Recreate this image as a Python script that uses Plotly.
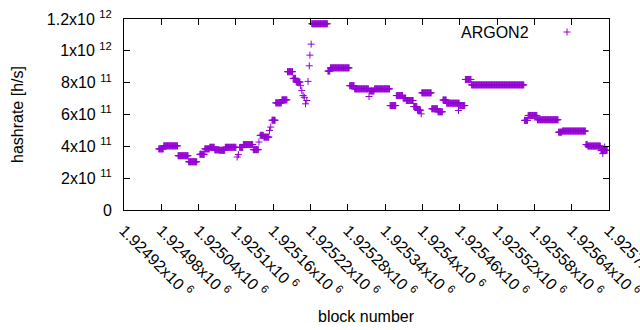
import plotly.graph_objects as go

# ---- data (hashrate in units of 1e11 h/s) ----
run_first = [1924976, 1924984, 1925007, 1925024, 1925042, 1925050, 1925058, 1925066, 1925074, 1925083,
             1925106, 1925112, 1925128, 1925139, 1925145, 1925158, 1925164, 1925174, 1925183, 1925192,
             1925197, 1925222, 1925248, 1925252, 1925283, 1925291, 1925315, 1925323, 1925348, 1925358,
             1925369, 1925374, 1925386, 1925392, 1925399, 1925415, 1925425, 1925433, 1925439, 1925460,
             1925469, 1925479, 1925564, 1925570, 1925585, 1925619, 1925625, 1925663, 1925666, 1925687]
run_last = [1924983, 1925006, 1925023, 1925037, 1925049, 1925057, 1925065, 1925073, 1925082, 1925100,
            1925111, 1925127, 1925136, 1925144, 1925153, 1925163, 1925173, 1925182, 1925191, 1925196,
            1925203, 1925247, 1925251, 1925282, 1925290, 1925313, 1925322, 1925347, 1925357, 1925368,
            1925373, 1925385, 1925391, 1925397, 1925414, 1925424, 1925432, 1925438, 1925459, 1925468,
            1925478, 1925563, 1925569, 1925584, 1925618, 1925624, 1925662, 1925665, 1925686, 1925697]
run_rate = [3.84, 4.03, 3.41, 3.03, 3.50, 3.84, 3.94, 3.78, 3.75, 3.94,
            3.93, 4.11, 3.79, 4.69, 4.58, 5.64, 6.73, 6.92, 8.69, 8.27,
            8.04, 11.70, 8.73, 8.93, 7.81, 7.61, 7.48, 7.61, 6.56, 7.19,
            7.03, 6.88, 6.50, 6.27, 7.36, 6.36, 6.17, 6.91, 6.71, 6.56,
            8.20, 7.86, 5.63, 5.94, 5.67, 4.89, 4.96, 4.11, 4.02, 3.75]

spot_block = [1925102, 1925104, 1925137, 1925154, 1925156, 1925204, 1925206, 1925208, 1925210,
              1925212, 1925214, 1925216, 1925218, 1925219, 1925221, 1925314, 1925398, 1925458,
              1925690, 1925693]
spot_rate = [3.33, 3.48, 4.27, 5.00, 5.21, 7.81, 7.50, 7.19, 7.08,
             6.67, 6.88, 8.08, 9.06, 9.73, 10.42, 7.13, 6.04, 6.25,
             3.54, 3.96]

xtick_values = [1924920, 1924980, 1925040, 1925100, 1925160, 1925220, 1925280,
                1925340, 1925400, 1925460, 1925520, 1925580, 1925640, 1925700]
xtick_labels = ["1.92492", "1.92498", "1.92504", "1.9251", "1.92516", "1.92522", "1.92528",
                "1.92534", "1.9254", "1.92546", "1.92552", "1.92558", "1.92564", "1.9257"]
ytick_values = [0, 2e11, 4e11, 6e11, 8e11, 1e12, 1.2e12]
ytick_mant = ["0", "2", "4", "6", "8", "1", "1.2"]
ytick_exp = ["", "11", "11", "11", "11", "12", "12"]

# ---- build points (one per block inside each plateau, plus single blocks) ----
xs, ys = [], []
for a, b, r in zip(run_first, run_last, run_rate):
    for blk in range(a, b + 1):
        xs.append(blk)
        ys.append(r * 1e11)
for blk, r in zip(spot_block, spot_rate):
    xs.append(blk)
    ys.append(r * 1e11)

COLOR = "#9400D3"
FONT = "Liberation Sans"
FS = 16

fig = go.Figure()
fig.add_trace(go.Scatter(
    x=xs, y=ys, mode="markers", name="ARGON2",
    marker=dict(symbol="cross-thin", size=5, color=COLOR, line=dict(color=COLOR, width=1)),
    showlegend=False, hoverinfo="skip",
))

ytext = [m if e == "" else f"{m}x10 <sup>{e}</sup>" for m, e in zip(ytick_mant, ytick_exp)]
xtext = [f"{t}x10 <sup>6</sup>" for t in xtick_labels]

L, R, T, B = 124, 609, 19, 210
W, H = 640, 330

fig.update_layout(
    width=W, height=H,
    margin=dict(l=L, r=W - R, t=T, b=H - B, autoexpand=False),
    paper_bgcolor="white", plot_bgcolor="white",
    font=dict(family=FONT, size=FS, color="black"),
    xaxis=dict(range=[1924920, 1925700], tickvals=xtick_values, ticktext=xtext,
               tickangle=45, ticks="inside", ticklen=6, tickcolor="black",
               showline=True, linecolor="black", linewidth=1, mirror="ticks",
               showgrid=False, zeroline=False, automargin=False,
               ticklabeloverflow="allow", ticklabelstandoff=4,
               tickfont=dict(family=FONT, size=FS, color="black")),
    yaxis=dict(range=[0, 1.2e12], tickvals=ytick_values, ticktext=ytext,
               ticks="inside", ticklen=6, tickcolor="black",
               showline=True, linecolor="black", linewidth=1, mirror="ticks",
               showgrid=False, zeroline=False, automargin=False,
               ticklabelstandoff=8, ticklabeloverflow="allow",
               tickfont=dict(family=FONT, size=FS, color="black")),
    showlegend=False,
)

pw, ph = R - L, B - T
def px(xp):
    return (xp - L) / pw
def py(yp):
    return (B - yp) / ph

annotations = [
    dict(text="block number", x=px(366), y=py(316), xref="paper", yref="paper",
         showarrow=False, xanchor="center", yanchor="middle", font=dict(size=FS)),
    dict(text="hashrate [h/s]", x=px(17), y=py(115), xref="paper", yref="paper",
         showarrow=False, xanchor="center", yanchor="middle", textangle=-90, font=dict(size=FS)),
    dict(text="ARGON2", x=px(531), y=py(32), xref="paper", yref="paper",
         showarrow=False, xanchor="right", yanchor="middle", font=dict(size=FS)),
]
fig.update_layout(annotations=annotations)

# legend sample "+"
cx, cy, arm = 567, 32, 3.5
fig.add_shape(type="line", xref="paper", yref="paper", x0=px(cx - arm), x1=px(cx + arm),
              y0=py(cy), y1=py(cy), line=dict(color=COLOR, width=1))
fig.add_shape(type="line", xref="paper", yref="paper", x0=px(cx), x1=px(cx),
              y0=py(cy - arm), y1=py(cy + arm), line=dict(color=COLOR, width=1))

fig.write_html("out.html", config={"displayModeBar": False, "staticPlot": True},
               post_script="document.body.style.margin='0';document.body.style.overflow='hidden';")
